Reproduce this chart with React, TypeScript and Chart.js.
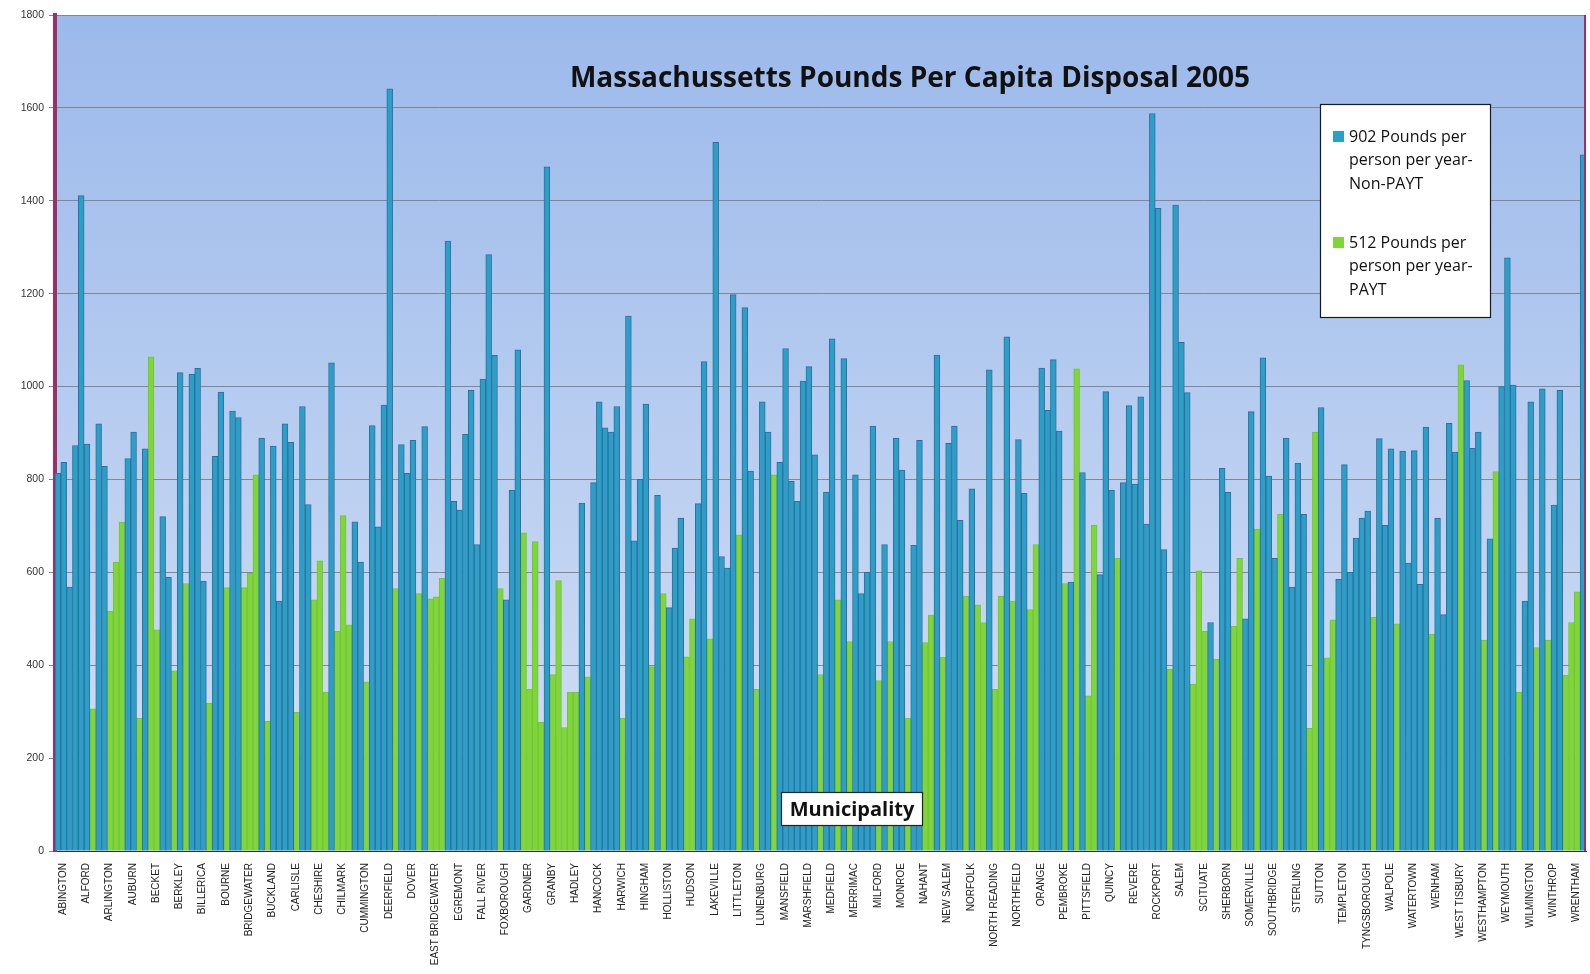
import { useEffect, useRef } from 'react';
import { Chart, registerables } from 'chart.js';

Chart.register(...registerables);

const chartTitle = 'Massachussetts Pounds Per Capita Disposal 2005';
const axisTitle = 'Municipality';
const seriesNames = [
  ['902 Pounds per', 'person per year-', 'Non-PAYT'],
  ['512 Pounds per', 'person per year-', 'PAYT'],
];

// one label for every fourth municipality
const tickLabels = [
  'ABINGTON', 'ALFORD', 'ARLINGTON', 'AUBURN', 'BECKET', 'BERKLEY', 'BILLERICA', 'BOURNE',
  'BRIDGEWATER', 'BUCKLAND', 'CARLISLE', 'CHESHIRE', 'CHILMARK', 'CUMMINGTON', 'DEERFIELD',
  'DOVER', 'EAST BRIDGEWATER', 'EGREMONT', 'FALL RIVER', 'FOXBOROUGH', 'GARDNER', 'GRANBY',
  'HADLEY', 'HANCOCK', 'HARWICH', 'HINGHAM', 'HOLLISTON', 'HUDSON', 'LAKEVILLE', 'LITTLETON',
  'LUNENBURG', 'MANSFIELD', 'MARSHFIELD', 'MEDFIELD', 'MERRIMAC', 'MILFORD', 'MONROE', 'NAHANT',
  'NEW SALEM', 'NORFOLK', 'NORTH READING', 'NORTHFIELD', 'ORANGE', 'PEMBROKE', 'PITTSFIELD',
  'QUINCY', 'REVERE', 'ROCKPORT', 'SALEM', 'SCITUATE', 'SHERBORN', 'SOMERVILLE', 'SOUTHBRIDGE',
  'STERLING', 'SUTTON', 'TEMPLETON', 'TYNGSBOROUGH', 'WALPOLE', 'WATERTOWN', 'WENHAM',
  'WEST TISBURY', 'WESTHAMPTON', 'WEYMOUTH', 'WILMINGTON', 'WINTHROP', 'WRENTHAM',
];

// pounds per capita, one per municipality
const pounds = [
  813, 837, 568, 873, 1411, 876, 306, 920, 828, 516,
  622, 708, 845, 902, 286, 866, 1064, 476, 720, 589,
  388, 1030, 576, 1027, 1039, 581, 318, 850, 988, 567,
  947, 933, 567, 598, 810, 889, 279, 872, 538, 920,
  880, 299, 957, 746, 541, 625, 342, 1051, 473, 722,
  487, 709, 622, 364, 916, 698, 960, 1641, 565, 875,
  813, 884, 554, 914, 543, 547, 587, 1313, 753, 734,
  897, 992, 660, 1016, 1284, 1067, 565, 541, 777, 1079,
  685, 348, 666, 277, 1473, 380, 582, 266, 342, 342,
  749, 375, 793, 967, 911, 902, 957, 286, 1152, 668,
  800, 962, 397, 766, 554, 524, 652, 717, 418, 500,
  748, 1054, 457, 1526, 634, 609, 1198, 681, 1170, 818,
  348, 967, 902, 810, 837, 1082, 796, 753, 1012, 1043,
  853, 380, 773, 1103, 541, 1060, 451, 810, 554, 600,
  915, 367, 660, 451, 889, 820, 286, 658, 884, 449,
  508, 1068, 417, 878, 915, 712, 549, 780, 530, 492,
  1036, 348, 549, 1107, 538, 886, 770, 520, 660, 1040,
  949, 1058, 904, 576, 579, 1038, 815, 334, 701, 595,
  989, 777, 630, 793, 959, 790, 978, 704, 1588, 1384,
  649, 391, 1391, 1095, 987, 359, 603, 473, 492, 413,
  824, 772, 484, 630, 500, 946, 693, 1062, 807, 630,
  725, 889, 568, 835, 725, 264, 902, 955, 416, 498,
  585, 832, 600, 674, 717, 732, 503, 888, 701, 866,
  489, 861, 620, 862, 574, 913, 467, 717, 509, 921,
  859, 1047, 1013, 867, 902, 454, 672, 817, 1000, 1277,
  1003, 342, 538, 967, 438, 995, 454, 745, 992, 378,
  492, 558, 1499,
];

// 1 = PAYT municipality, 0 = non-PAYT
const paytFlags = [
  0, 0, 0, 0, 0, 0, 1, 0, 0, 1,
  1, 1, 0, 0, 1, 0, 1, 1, 0, 0,
  1, 0, 1, 0, 0, 0, 1, 0, 0, 1,
  0, 0, 1, 1, 1, 0, 1, 0, 0, 0,
  0, 1, 0, 0, 1, 1, 1, 0, 1, 1,
  1, 0, 0, 1, 0, 0, 0, 0, 1, 0,
  0, 0, 1, 0, 1, 1, 1, 0, 0, 0,
  0, 0, 0, 0, 0, 0, 1, 0, 0, 0,
  1, 1, 1, 1, 0, 1, 1, 1, 1, 1,
  0, 1, 0, 0, 0, 0, 0, 1, 0, 0,
  0, 0, 1, 0, 1, 0, 0, 0, 1, 1,
  0, 0, 1, 0, 0, 0, 0, 1, 0, 0,
  1, 0, 0, 1, 0, 0, 0, 0, 0, 0,
  0, 1, 0, 0, 1, 0, 1, 0, 0, 0,
  0, 1, 0, 1, 0, 0, 1, 0, 0, 1,
  1, 0, 1, 0, 0, 0, 1, 0, 1, 1,
  0, 1, 1, 0, 1, 0, 0, 1, 1, 0,
  0, 0, 0, 1, 0, 1, 0, 1, 1, 0,
  0, 0, 1, 0, 0, 0, 0, 0, 0, 0,
  0, 1, 0, 0, 0, 1, 1, 1, 0, 1,
  0, 0, 1, 1, 0, 0, 1, 0, 0, 0,
  1, 0, 0, 0, 0, 1, 1, 0, 1, 1,
  0, 0, 0, 0, 0, 0, 1, 0, 0, 0,
  1, 0, 0, 0, 0, 0, 1, 0, 0, 0,
  0, 1, 0, 0, 0, 1, 0, 1, 0, 0,
  0, 1, 0, 0, 1, 0, 1, 0, 0, 1,
  1, 1, 0,
];

const yTicks = { min: 0, max: 1800, step: 200 };

const BLUE = '#2a9fc8';
const BLUE_EDGE = '#376c99';
const GREEN = '#7fd53b';
const GREEN_EDGE = '#72c634';
const AXIS_MAGENTA = '#9e2f66';

const decorPlugin = {
  id: 'decor',
  beforeDraw(chart: any) {
    const { ctx, chartArea: a, width, height } = chart;
    ctx.save();
    ctx.fillStyle = '#ffffff';
    ctx.fillRect(0, 0, width, height);
    const g = ctx.createLinearGradient(0, a.top, 0, a.bottom);
    g.addColorStop(0, '#9bb9eb');
    g.addColorStop(1, '#d5e1f5');
    ctx.fillStyle = g;
    ctx.fillRect(a.left, a.top, a.right - a.left, a.bottom - a.top);
    ctx.restore();
  },
  afterDraw(chart: any) {
    const { ctx, chartArea: a } = chart;
    ctx.save();
    // right frame line
    ctx.strokeStyle = AXIS_MAGENTA;
    ctx.lineWidth = 2;
    ctx.beginPath();
    ctx.moveTo(a.right - 1, a.top);
    ctx.lineTo(a.right - 1, a.bottom);
    ctx.stroke();

    // title
    ctx.fillStyle = '#111';
    ctx.font = 'bold 28px "Open Sans"';
    ctx.textAlign = 'center';
    ctx.textBaseline = 'middle';
    ctx.fillText(chartTitle, 910, 79);

    // legend box
    ctx.fillStyle = '#ffffff';
    ctx.fillRect(1320, 104, 171, 213);
    ctx.strokeStyle = '#1a1a1a';
    ctx.lineWidth = 1.2;
    ctx.strokeRect(1320.5, 104.5, 170, 213);
    const colors = [BLUE, GREEN];
    const starts = [137, 243];
    ctx.font = '16px "Open Sans"';
    ctx.textAlign = 'left';
    ctx.textBaseline = 'middle';
    seriesNames.forEach((lines, i) => {
      ctx.fillStyle = colors[i];
      ctx.fillRect(1333, starts[i] - 6, 11, 11);
      ctx.fillStyle = '#111';
      lines.forEach((t, j) => ctx.fillText(t, 1349, starts[i] + j * 23.5));
    });

    // axis title box
    ctx.fillStyle = '#ffffff';
    ctx.fillRect(781, 792, 142, 34);
    ctx.strokeStyle = '#222';
    ctx.lineWidth = 1.2;
    ctx.strokeRect(781.5, 792.5, 141, 33);
    ctx.fillStyle = '#111';
    ctx.font = 'bold 20px "Open Sans"';
    ctx.textAlign = 'center';
    ctx.fillText(axisTitle, 852, 810);
    ctx.restore();
  },
};

export default function App() {
  const ref = useRef<HTMLCanvasElement | null>(null);

  useEffect(() => {
    if (!ref.current) return;
    const categories = pounds.map((_, i) => (i % 4 === 0 ? tickLabels[i / 4] ?? '' : ''));
    const nonPayt = pounds.map((v, i) => (paytFlags[i] ? null : v));
    const payt = pounds.map((v, i) => (paytFlags[i] ? v : null));

    const chart = new Chart(ref.current, {
      type: 'bar',
      data: {
        labels: categories,
        datasets: [
          {
            label: seriesNames[0].join(' '),
            data: nonPayt,
            backgroundColor: BLUE,
            borderColor: BLUE_EDGE,
            borderWidth: { top: 1, left: 1, right: 1, bottom: 0 },
            categoryPercentage: 1,
            barPercentage: 1,
          },
          {
            label: seriesNames[1].join(' '),
            data: payt,
            backgroundColor: GREEN,
            borderColor: GREEN_EDGE,
            borderWidth: { top: 1, left: 1, right: 1, bottom: 0 },
            categoryPercentage: 1,
            barPercentage: 1,
          },
        ],
      },
      options: {
        responsive: true,
        maintainAspectRatio: false,
        animation: false,
        layout: { padding: { top: 15, right: 4, left: 0, bottom: 0 } },
        plugins: {
          legend: { display: false },
          tooltip: { enabled: false },
          title: { display: false },
        },
        scales: {
          x: {
            stacked: true,
            grid: { display: false, drawTicks: false },
            border: { display: true, color: '#333', width: 1 },
            ticks: {
              autoSkip: false,
              maxRotation: 90,
              minRotation: 90,
              padding: 12,
              labelOffset: 5,
              color: '#222',
              font: { family: 'Liberation Sans', size: 10 },
            },
            afterFit: (s: any) => {
              s.height = 123;
              s.paddingLeft = 0;
              s.paddingRight = 0;
            },
          },
          y: {
            stacked: true,
            min: yTicks.min,
            max: yTicks.max,
            ticks: {
              stepSize: yTicks.step,
              color: '#333',
              padding: 5,
              font: { family: 'Liberation Sans', size: 10.5 },
              callback: (v: any) => String(v),
            },
            grid: { color: '#7f8794', lineWidth: 1, tickLength: 6 },
            border: { color: AXIS_MAGENTA, width: 4 },
            afterFit: (s: any) => {
              s.width = 55;
              s.paddingTop = 0;
              s.paddingBottom = 0;
            },
          },
        },
      },
      plugins: [decorPlugin],
    });
    return () => chart.destroy();
  }, []);

  return (
    <div style={{ position: 'fixed', left: 0, top: 0, width: '100vw', height: '100vh' }}>
      <canvas ref={ref} />
    </div>
  );
}
